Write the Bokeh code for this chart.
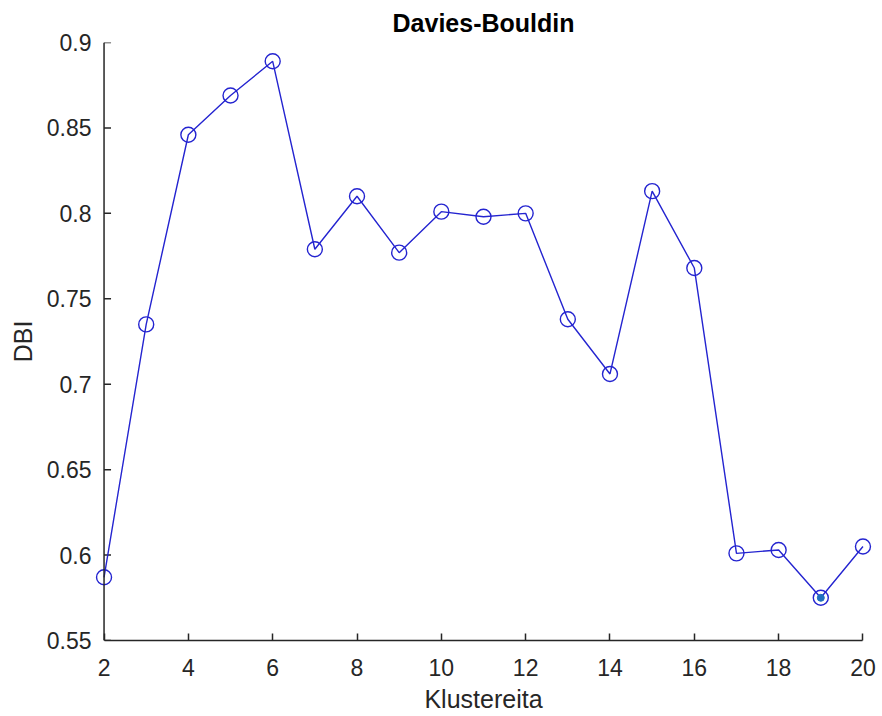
from bokeh.plotting import figure
from bokeh.models import FixedTicker, ColumnDataSource, Span
from bokeh.embed import file_html
from bokeh.resources import INLINE

# Davies-Bouldin index per number of clusters
clusters = [2, 3, 4, 5, 6, 7, 8, 9, 10, 11, 12, 13, 14, 15, 16, 17, 18, 19, 20]
dbi = [0.587, 0.735, 0.846, 0.869, 0.889, 0.779, 0.810, 0.777, 0.801, 0.798,
       0.800, 0.738, 0.706, 0.813, 0.768, 0.601, 0.603, 0.575, 0.605]
best_k = [19]
best_dbi = [0.575]

x_ticks = [2, 4, 6, 8, 10, 12, 14, 16, 18, 20]
y_ticks = [0.55, 0.6, 0.65, 0.7, 0.75, 0.8, 0.85, 0.9]
y_tick_labels = ["0.55", "0.6", "0.65", "0.7", "0.75", "0.8", "0.85", "0.9"]

X_LIM = (2, 20)
Y_LIM = (0.55, 0.9)
PAD = 0.25  # extra room so edge markers are not cut by the frame

FONT = "Liberation Sans"
AX = "#262626"

p = figure(width=882, height=716, output_backend="svg", toolbar_location=None,
           x_range=(X_LIM[0] - PAD, X_LIM[1] + PAD), y_range=Y_LIM,
           min_border_left=93, min_border_right=9,
           min_border_top=42, min_border_bottom=76,
           title="Davies-Bouldin")

p.title.align = "center"
p.title.text_font = FONT
p.title.text_font_size = "25px"
p.title.text_font_style = "bold"
p.title.text_color = "#000000"
p.title.offset = 0
p.title.standoff = 11

p.outline_line_color = None
p.xgrid.visible = False
p.ygrid.visible = False
p.background_fill_color = "white"
p.border_fill_color = "white"

for ax in (p.xaxis[0], p.yaxis[0]):
    ax.axis_line_color = AX
    ax.axis_line_width = 1.5
    ax.major_tick_line_color = AX
    ax.major_tick_line_width = 1.5
    ax.major_tick_in = 7
    ax.major_tick_out = 0
    ax.minor_tick_line_color = None
    ax.major_label_text_font = FONT
    ax.major_label_text_font_size = "23px"
    ax.major_label_text_color = AX
    ax.axis_label_text_font = FONT
    ax.axis_label_text_font_size = "25px"
    ax.axis_label_text_font_style = "normal"
    ax.axis_label_text_color = AX

p.xaxis.ticker = FixedTicker(ticks=x_ticks)
p.xaxis.bounds = X_LIM
p.xaxis.axis_label = "Klustereita"
p.xaxis.major_label_standoff = 18
p.xaxis.axis_label_standoff = 6

# y axis: labels from the side axis, line and inward ticks drawn at x = 2
p.yaxis.ticker = FixedTicker(ticks=y_ticks)
p.yaxis.major_label_overrides = {t: s for t, s in zip(y_ticks, y_tick_labels)}
p.yaxis.axis_line_color = None
p.yaxis.major_tick_line_color = None
p.yaxis.major_tick_in = 0
p.yaxis.axis_label = "DBI"
p.yaxis.major_label_standoff = 2
p.yaxis.axis_label_standoff = 7

p.add_layout(Span(location=X_LIM[0], dimension="height",
                  line_color=AX, line_width=1.5))
p.ray(x=[X_LIM[0]] * len(y_ticks), y=y_ticks, length=7, length_units="screen",
      angle=0, line_color=AX, line_width=1.5)

src = ColumnDataSource(data=dict(k=clusters, v=dbi))
p.line("k", "v", source=src, line_color="#2424d0", line_width=1.4)
p.scatter("k", "v", source=src, marker="circle", size=15,
          fill_color=None, line_color="#2424d0", line_width=1.4)

# highlighted minimum
p.scatter(best_k, best_dbi, marker="circle", size=7,
          fill_color="#1f6fc0", line_color="#1f6fc0", line_width=1)

open("out.html", "w").write(file_html(p, INLINE))
